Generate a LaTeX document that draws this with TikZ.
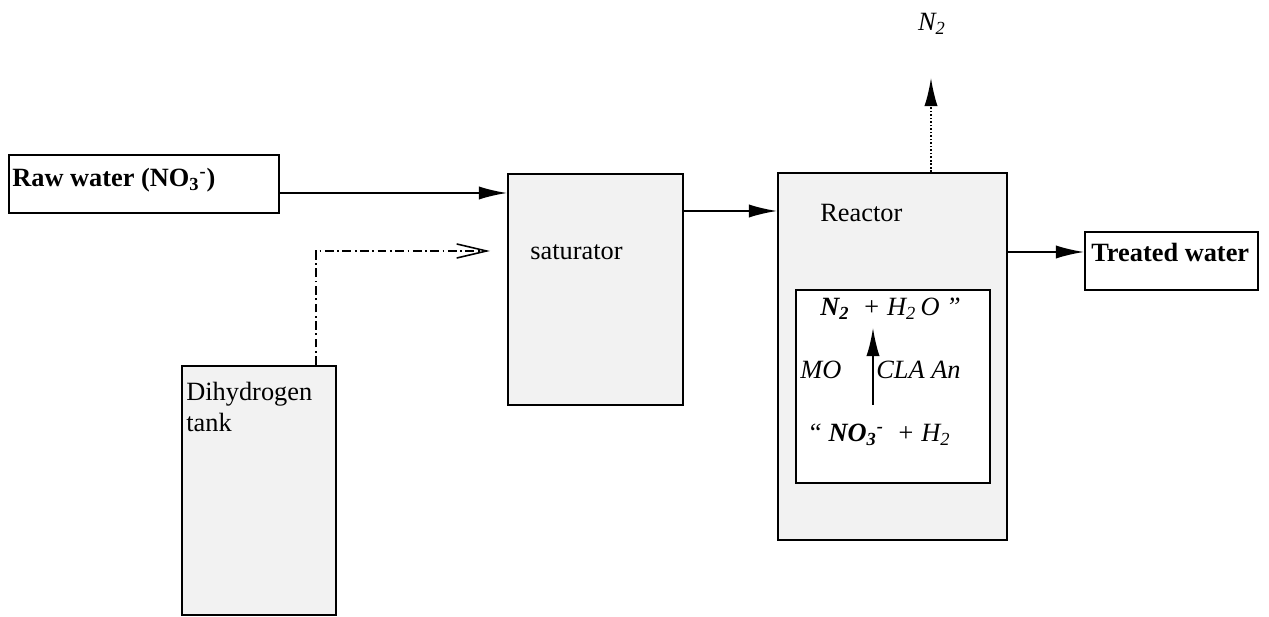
\documentclass[tikz,border=0pt]{standalone}
\usepackage{fontspec}
\setmainfont{Liberation Serif}
\usetikzlibrary{arrows.meta}
\definecolor{tankgray}{HTML}{F2F2F2}

\begin{document}
\begin{tikzpicture}[x=0.02cm, y=-0.02cm, >=Latex,
  every node/.style={font=\fontsize{15}{18}\selectfont},
  unit/.style={draw, line width=1.1pt, fill=tankgray, inner sep=0pt},
  port/.style={draw, line width=1.1pt, fill=white, inner sep=0pt},
  flow/.style={-{Latex[length=16pt, width=7.5pt]}, line width=1pt},
  lbl/.style={anchor=base west, inner sep=0pt}]
  \useasboundingbox (0,0) rectangle (1269,617);
  % in and out
  \node[port, minimum width=5.4cm, minimum height=1.16cm] (raw) at (144,184) {};
  \node[port, minimum width=3.46cm, minimum height=1.16cm] (treated) at (1171.5,261) {};
  \node[lbl] (rawlbl) at (12,187) {\textbf{Raw water (NO\textsubscript{3}\textsuperscript{-})}};
  \node[lbl] (treatedlbl) at (1091,262) {\textbf{Treated water}};
  % units
  \node[unit, minimum width=3.5cm, minimum height=4.62cm] (sat) at (595.5,289.5) {};
  \node[unit, minimum width=4.58cm, minimum height=7.34cm] (reactor) at (892.5,356.5) {};
  \node[unit, minimum width=3.08cm, minimum height=4.98cm] (tank) at (259,490.5) {};
  \node[port, minimum width=3.88cm, minimum height=3.86cm] (bio) at (893,386.5) {};
  \node[lbl] (satlbl) at (530,260) {saturator};
  \node[lbl] (reactorlbl) at (820,222) {Reactor};
  \node[lbl, align=left] (tanklbl) at (186,432) {Dihydrogen\\tank};
  % reaction inside the reactor
  \node[lbl] (prod) at (820,316) {\textit{\textbf{N\textsubscript{2}}\ \ + H\textsubscript{2}\,O ”}};
  \node[lbl] (reac) at (807,442) {\textit{“ \textbf{NO\textsubscript{3}\textsuperscript{-}}\ \ + H\textsubscript{2}}};
  \node[lbl] (mo) at (800,379) {\textit{MO}};
  \node[lbl] (cla) at (876,379) {\textit{CLA An}};
  \coordinate (rbot) at (873,405);
  \coordinate (rtop) at (873,328);
  \draw[flow] (rbot) -- (rtop);
  % nitrogen off-gas
  \node (ntwo) at (932,24) {\textit{N\textsubscript{2}}};
  \coordinate (gas) at (931,78);
  \draw[flow, densely dotted] (reactor.north -| gas) -- (gas);
  % water line
  \draw[flow] (raw.east |- 0,193) -- (sat.west |- 0,193);
  \draw[flow] (sat.east |- 0,211) -- (reactor.west |- 0,211);
  \draw[flow] (reactor.east |- 0,252) -- (treated.west |- 0,252);
  % hydrogen feed
  \coordinate (hin) at (490,251);
  \draw[-{Straight Barb[length=17pt, width=8pt]}, line width=0.9pt,
    dash pattern=on 5pt off 2pt on 1pt off 2pt]
    (tank.north -| 316,0) |- (hin);
\end{tikzpicture}
\end{document}
